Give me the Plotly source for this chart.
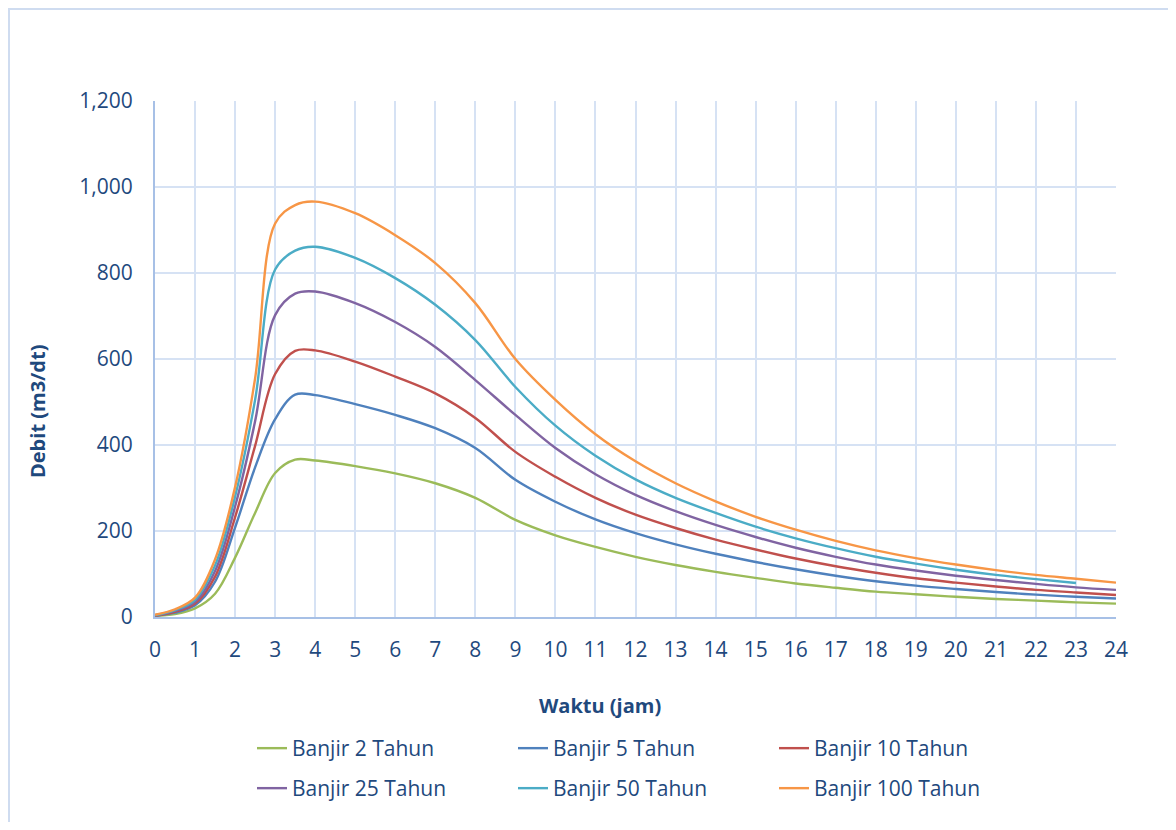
import plotly.graph_objects as go

# ---- data ----
jam = [0, 0.5, 1, 1.5, 2, 2.5, 3, 3.5, 4, 5, 6, 7, 8, 9, 10, 11, 12, 13, 14, 15, 16, 17, 18, 19, 20, 21, 22, 23, 24]

q2 = [3, 7, 20, 54, 138, 242, 335, 366, 364, 351, 334, 311, 277, 226, 190, 163, 140, 121, 105, 91, 78, 68, 59, 53, 47, 42, 38, 34, 31]
q5 = [3, 10, 27, 82, 208, 348, 460, 517, 516, 495, 470, 439, 393, 319, 268, 227, 195, 169, 147, 128, 111, 96, 83, 73, 65, 58, 52, 47, 43]
q10 = [3, 12, 31, 94, 232, 398, 565, 619, 620, 594, 559, 520, 463, 384, 326, 277, 238, 207, 180, 157, 136, 118, 103, 90, 80, 71, 63, 57, 51]
q25 = [4, 14, 35, 107, 257, 455, 702, 752, 757, 730, 686, 628, 551, 470, 393, 332, 284, 246, 214, 186, 161, 140, 122, 108, 96, 86, 77, 69, 63]
q50 = [4, 16, 40, 120, 280, 505, 808, 852, 861, 835, 788, 726, 644, 535, 445, 375, 320, 277, 242, 210, 183, 160, 140, 124, 110, 98, 88, 79, None]
q100 = [5, 18, 45, 134, 302, 555, 915, 958, 966, 939, 888, 823, 730, 600, 505, 425, 362, 311, 269, 233, 203, 177, 155, 137, 122, 109, 98, 89, 80]

series_names = ["Banjir 2 Tahun", "Banjir 5 Tahun", "Banjir 10 Tahun",
                "Banjir 25 Tahun", "Banjir 50 Tahun", "Banjir 100 Tahun"]
series_values = [q2, q5, q10, q25, q50, q100]
series_colors = ["#9BBB59", "#4F81BD", "#C0504D", "#8064A2", "#4BACC6", "#F79646"]

x_ticks = list(range(0, 25))
y_ticks = [0, 200, 400, 600, 800, 1000, 1200]

# ---- figure ----
# page has an 8px body offset; plot area in page px: x 155..1116, y 101..617
OFF = 8
W, H = 1160, 814
PL, PR, PT, PB = 155, 1116, 101, 617
L = PL - OFF
T = PT - OFF
R = W - (PR - OFF)
B = H - (PB - OFF)
pw, ph = PR - PL, PB - PT

TXT = "#1F497D"
FONT = "Open Sans"
GRID = "#D6E2F4"
AXL = "#A7C0E6"

fig = go.Figure()
for i, (nm, vals, col) in enumerate(zip(series_names, series_values, series_colors)):
    fig.add_trace(go.Scatter(
        x=jam, y=vals, name=nm, mode="lines",
        line=dict(color=col, width=2.4, shape="spline", smoothing=1.0),
        connectgaps=False,
        legend="legend" if i < 3 else "legend2",
    ))

def px2x(px):
    return (px - PL) / pw

def py2y(py):
    return (PB - py) / ph

leg_common = dict(orientation="h", xanchor="left", yanchor="top",
                  entrywidth=216, entrywidthmode="pixels", traceorder="normal",
                  font=dict(family=FONT, size=21, color=TXT), itemwidth=30,
                  bgcolor="rgba(0,0,0,0)")

fig.update_layout(
    width=W, height=H,
    margin=dict(l=L, r=R, t=T, b=B),
    paper_bgcolor="white", plot_bgcolor="white",
    font=dict(family=FONT, color=TXT, size=21),
    showlegend=True,
    legend=dict(x=px2x(252), y=py2y(728), **leg_common),
    legend2=dict(x=px2x(252), y=py2y(768), **leg_common),
    xaxis=dict(range=[0, 24], tickmode="array", tickvals=x_ticks,
               ticktext=[str(v) for v in x_ticks],
               showgrid=True, gridcolor=GRID, gridwidth=2,
               showline=True, linecolor=AXL, linewidth=2,
               zeroline=False, ticks="", ticklabelstandoff=13,
               tickfont=dict(family=FONT, size=21, color=TXT)),
    yaxis=dict(range=[0, 1200], tickmode="array", tickvals=y_ticks,
               ticktext=[f"{v:,}" for v in y_ticks],
               showgrid=True, gridcolor=GRID, gridwidth=2,
               showline=True, linecolor=AXL, linewidth=2,
               zeroline=False, ticks="", ticklabelstandoff=16,
               tickfont=dict(family=FONT, size=21, color=TXT)),
)

# axis titles
fig.add_annotation(text="<b>Waktu (jam)</b>", xref="paper", yref="paper",
                   x=px2x(600), y=py2y(705), showarrow=False,
                   font=dict(family=FONT, size=20, color=TXT),
                   xanchor="center", yanchor="middle")
fig.add_annotation(text="<b>Debit (m3/dt)</b>", xref="paper", yref="paper",
                   x=px2x(37), y=py2y(411), showarrow=False, textangle=-90,
                   font=dict(family=FONT, size=20, color=TXT),
                   xanchor="center", yanchor="middle")

# chart border (outer frame)
fig.add_shape(type="rect", xref="paper", yref="paper",
              x0=px2x(9), x1=px2x(1250), y0=py2y(900), y1=py2y(9),
              line=dict(color="#CFDCF0", width=2), fillcolor="rgba(0,0,0,0)", layer="below")

fig.write_html("out.html")
